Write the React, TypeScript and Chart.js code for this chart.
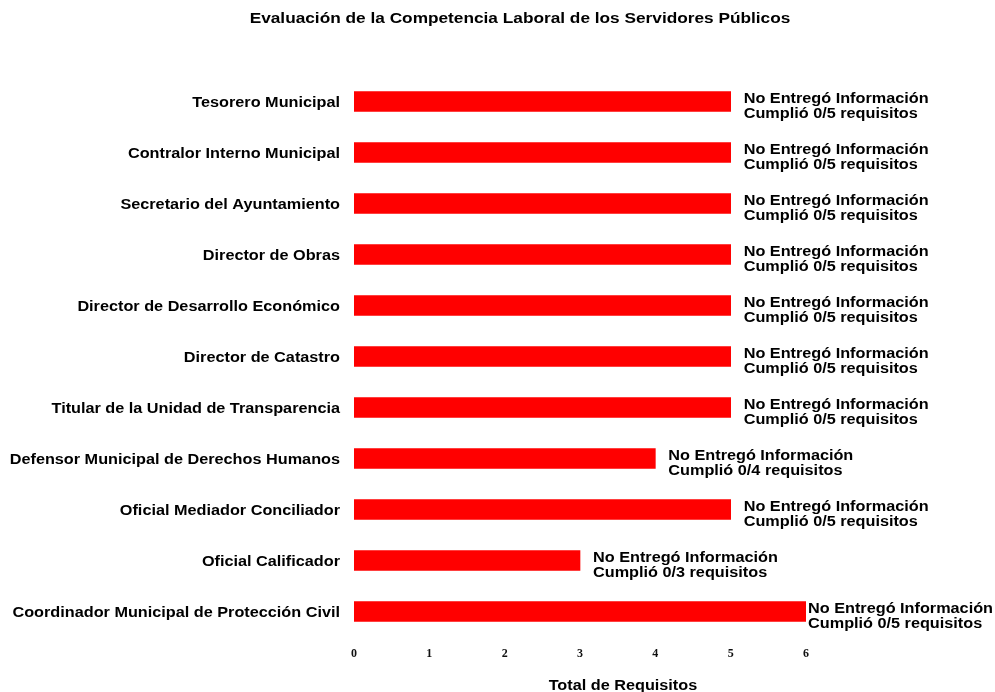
import React, { useEffect, useRef } from "react";
import { Chart, registerables } from "chart.js";

Chart.register(...registerables);

const categories = [
  "Tesorero Municipal",
  "Contralor Interno Municipal",
  "Secretario del Ayuntamiento",
  "Director de Obras",
  "Director de Desarrollo Económico",
  "Director de Catastro",
  "Titular de la Unidad de Transparencia",
  "Defensor Municipal de Derechos Humanos",
  "Oficial Mediador Conciliador",
  "Oficial Calificador",
  "Coordinador Municipal de Protección Civil",
];
const barValues = [5, 5, 5, 5, 5, 5, 5, 4, 5, 3, 6];
const cumplidos = [0, 0, 0, 0, 0, 0, 0, 0, 0, 0, 0];
const requisitos = [5, 5, 5, 5, 5, 5, 5, 4, 5, 3, 5];
const statusText = "No Entregó Información";
const xTicks = [0, 1, 2, 3, 4, 5, 6];
const chartTitle = "Evaluación de la Competencia Laboral de los Servidores Públicos";
const xTitle = "Total de Requisitos";

const SANS = "'Liberation Sans', Arial, sans-serif";
const SERIF = "'Liberation Serif', 'Times New Roman', serif";
const STRETCH = 1.16;
const LABEL_FONT = `bold 14px ${SANS}`;

function drawText(ctx: any, text: string, x: number, y: number, align: string, font: string, sx: number) {
  ctx.save();
  ctx.translate(x, y);
  ctx.scale(sx, 1);
  ctx.font = font;
  ctx.textAlign = align;
  ctx.textBaseline = "middle";
  ctx.fillStyle = "#000";
  ctx.fillText(text, 0, 0);
  ctx.restore();
}

const annotatePlugin = {
  id: "annotate",
  afterDatasetsDraw(chart: any) {
    const ctx = chart.ctx;
    const xs = chart.scales.x;
    const ys = chart.scales.y;
    drawText(ctx, chartTitle, 520, 19, "center", `bold 15px ${SANS}`, 1.15);
    drawText(ctx, xTitle, xs.getPixelForValue(3.57), 686, "center", `bold 14px ${SANS}`, STRETCH);
    categories.forEach((c, i) => {
      drawText(ctx, c, xs.left - 14, ys.getPixelForValue(i) + 2, "right", LABEL_FONT, STRETCH);
    });
    const meta = chart.getDatasetMeta(0);
    ctx.save();
    ctx.font = LABEL_FONT;
    meta.data.forEach((bar: any, i: number) => {
      const l2 = `Cumplió ${cumplidos[i]}/${requisitos[i]} requisitos`;
      const w = Math.max(ctx.measureText(statusText).width, ctx.measureText(l2).width) * STRETCH;
      const x = Math.min(bar.x + 13, chart.width - w - 2);
      drawText(ctx, statusText, x, bar.y - 2, "left", LABEL_FONT, STRETCH);
      drawText(ctx, l2, x, bar.y + 13, "left", LABEL_FONT, STRETCH);
    });
    ctx.restore();
  },
};

export default function App() {
  const ref = useRef<HTMLCanvasElement>(null);
  useEffect(() => {
    if (!ref.current) return;
    const chart = new Chart(ref.current, {
      type: "bar",
      data: {
        labels: categories,
        datasets: [
          {
            data: barValues,
            backgroundColor: "#ff0000",
            borderWidth: 0,
            barThickness: 20,
          },
        ],
      },
      options: {
        indexAxis: "y",
        animation: false,
        responsive: false,
        events: [],
        layout: { padding: { top: 76, right: 189, bottom: 0, left: 0 } },
        plugins: { legend: { display: false }, title: { display: false }, tooltip: { enabled: false } },
        scales: {
          y: {
            afterFit: (s: any) => {
              s.width = 354;
            },
            grid: { display: false, drawTicks: false },
            border: { display: false },
            ticks: { display: false },
          },
          x: {
            min: 0,
            max: 6,
            afterFit: (s: any) => {
              s.height = 55;
            },
            afterBuildTicks: (s: any) => {
              s.ticks = xTicks.map((v) => ({ value: v }));
            },
            grid: { display: false, drawTicks: false },
            border: { display: false },
            ticks: {
              padding: 10,
              color: "#111",
              font: { family: SERIF, size: 12, weight: "bold" },
            },
          },
        },
      },
      plugins: [annotatePlugin],
    });
    return () => chart.destroy();
  }, []);
  return (
    <div style={{ position: "fixed", left: 0, top: 0, width: 995, height: 692, background: "#fff" }}>
      <canvas ref={ref} width={995} height={692} style={{ width: 995, height: 692 }} />
    </div>
  );
}
